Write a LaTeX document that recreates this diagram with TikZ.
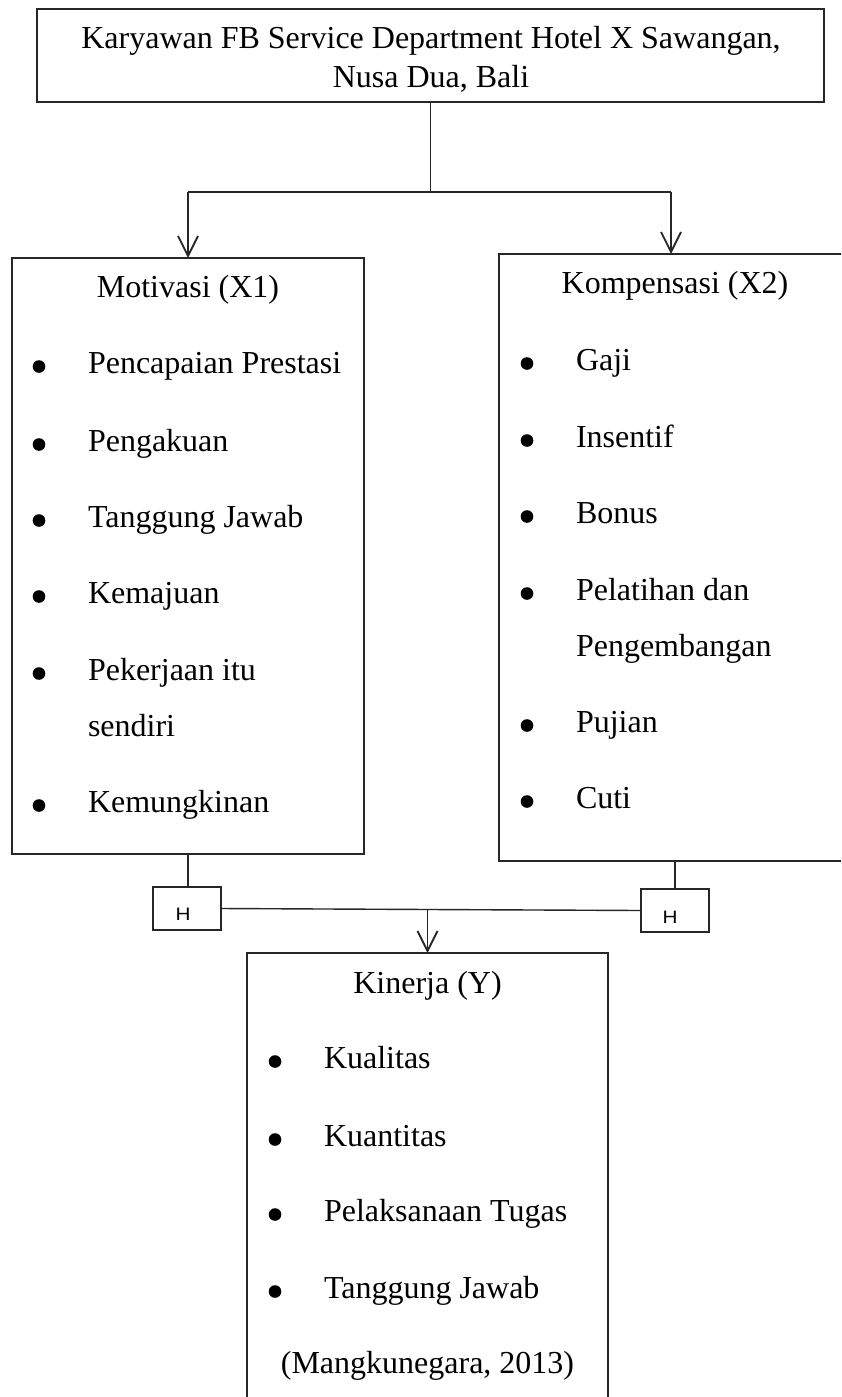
\documentclass[tikz,border=0pt]{standalone}
\usepackage{fontspec}
\setmainfont{Liberation Serif}
\newfontfamily\hfont{Liberation Sans}
\usetikzlibrary{arrows.meta}
\begin{document}
\begin{tikzpicture}[x=0.5pt,y=-0.5pt,
  box/.style={draw=black!85, line width=0.7pt, inner sep=0pt, outer sep=0pt},
  txt/.style={font=\fontsize{16pt}{20pt}\selectfont, inner sep=0pt, outer sep=0pt},
  itm/.style={txt, anchor=base west},
  ttl/.style={txt, anchor=base},
  dot/.style={circle, fill=black, inner sep=0pt, minimum size=6.3pt},
  hl/.style={font=\hfont\fontsize{9pt}{10pt}\selectfont, inner sep=0pt, anchor=base},
  conn/.style={draw=black!85, line width=0.7pt},
  arr/.style={conn, -{Straight Barb[length=10pt,width=10pt,line width=0.9pt]}}
]
\useasboundingbox (0,0) rectangle (841,1397);
\clip (0,0) rectangle (841,1397);
\fill[white] (0,0) rectangle (841,1397);

% boxes
\node[box, minimum width=393.5pt, minimum height=46.5pt] (top) at (430.5,55.5) {};
\node[box, minimum width=176pt, minimum height=298pt] (mot) at (188,556) {};
\node[box, minimum width=176pt, minimum height=303.5pt] (komp) at (675,557.5) {};
\node[box, minimum width=34pt, minimum height=21.5pt] (h1) at (187,908.5) {};
\node[box, minimum width=34pt, minimum height=21.5pt] (h2) at (675,910.5) {};
\node[box, minimum width=180.5pt, minimum height=230pt] (kin) at (427.5,1183) {};

% H labels
\node[hl] (h1t) at (183,920) {\scalebox{1.15}[1]{H}};
\node[hl] (h2t) at (670,923.5) {\scalebox{1.15}[1]{H}};

% top title
\node[ttl] (t1) at (431,48) {Karyawan FB Service Department Hotel X Sawangan,};
\node[ttl] (t2) at (431,87) {Nusa Dua, Bali};

% left box
\node[ttl] (motT) at (188,297) {Motivasi (X1)};
\node[itm] (m1) at (88,373) {Pencapaian Prestasi};
\node[itm] (m2) at (88,451) {Pengakuan};
\node[itm] (m3) at (88,527) {Tanggung Jawab};
\node[itm] (m4) at (88,603) {Kemajuan};
\node[itm] (m5) at (88,680) {Pekerjaan itu};
\node[itm] (m5b) at (88,736) {sendiri};
\node[itm] (m6) at (88,812) {Kemungkinan};
\foreach \y/\n in {373/1,451/2,527/3,603/4,680/5,812/6}
  \node[dot] (md\n) at (39,\y-6.5) {};

% right box
\node[ttl] (kompT) at (675,293) {Kompensasi (X2)};
\node[itm] (k1) at (576,370) {Gaji};
\node[itm] (k2) at (576,447) {Insentif};
\node[itm] (k3) at (576,523) {Bonus};
\node[itm] (k4) at (576,600) {Pelatihan dan};
\node[itm] (k4b) at (576,656) {Pengembangan};
\node[itm] (k5) at (576,732) {Pujian};
\node[itm] (k6) at (576,808) {Cuti};
\foreach \y/\n in {370/1,447/2,523/3,600/4,732/5,808/6}
  \node[dot] (kd\n) at (527,\y-6.5) {};

% bottom box
\node[ttl] (kinT) at (427.5,993) {Kinerja (Y)};
\node[itm] (y1) at (324,1068) {Kualitas};
\node[itm] (y2) at (324,1146) {Kuantitas};
\node[itm] (y3) at (324,1221) {Pelaksanaan Tugas};
\node[itm] (y4) at (324,1298) {Tanggung Jawab};
\foreach \y/\n in {1068/1,1146/2,1221/3,1298/4}
  \node[dot] (yd\n) at (275,\y-6.5) {};
\node[ttl] (src) at (427.5,1373) {(Mangkunegara, 2013)};

% connectors
\coordinate (j) at (top.south |- 0,192);
\draw[conn] (top.south) -- (j);
\coordinate (jl) at (mot.north |- j);
\coordinate (jr) at ([xshift=-2pt]komp.north |- j);
\draw[conn] (jl) -- (jr);
\draw[arr] (jl) -- (mot.north);
\draw[arr] (jr) -- ([xshift=-2pt]komp.north);
\draw[conn] (mot.south) -- (mot.south |- h1.north);
\draw[conn] (komp.south) -- (h2.north);
\draw[conn] (h1.east) -- (h2.west);
\coordinate (m) at (kin.north |- 0,909.5);
\draw[arr] (m) -- (kin.north);
\end{tikzpicture}
\end{document}
